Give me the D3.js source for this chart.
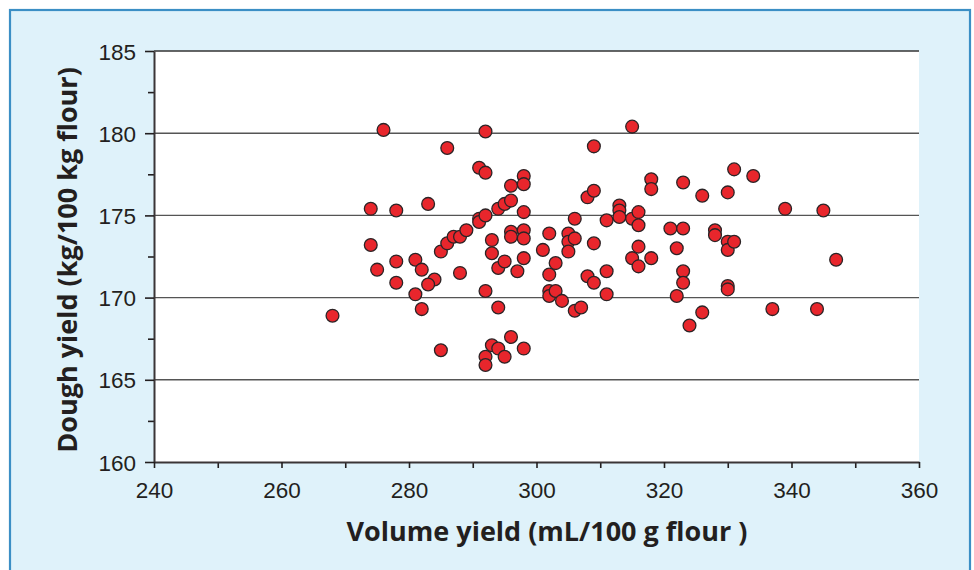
<!DOCTYPE html>
<html>
<head>
<meta charset="utf-8">
<script src="https://cdn.jsdelivr.net/npm/d3@7"></script>
<style>
    html, body { margin: 0; padding: 0; background: #fff; }
    svg { display: block; }
</style>
</head>
<body>
<script>
// volume yield (mL/100 g flour)
var volumeYield = [
    268, 274, 274, 275, 276, 278, 278, 278, 281, 281,
    282, 282, 283, 284, 283, 285, 285, 286, 286, 287,
    288, 288, 289, 291, 291, 291, 292, 292, 292, 292,
    292, 292, 293, 293, 293, 294, 294, 294, 294, 295,
    295, 295, 296, 296, 296, 296, 296, 297, 298, 298,
    298, 298, 298, 298, 298, 301, 302, 302, 302, 302,
    303, 303, 304, 305, 305, 305, 306, 306, 306, 307,
    308, 308, 309, 309, 309, 309, 311, 311, 311, 313,
    313, 313, 315, 315, 315, 316, 316, 316, 316, 318,
    318, 318, 321, 322, 322, 323, 323, 323, 323, 324,
    326, 326, 328, 328, 330, 330, 330, 330, 330, 331,
    331, 334, 337, 339, 344, 345, 347
];

// dough yield (kg/100 kg flour)
var doughYield = [
    168.9, 175.4, 173.2, 171.7, 180.2, 175.3, 172.2, 170.9, 172.3, 170.2,
    171.7, 169.3, 175.7, 171.1, 170.8, 172.8, 166.8, 179.1, 173.3, 173.7,
    173.7, 171.5, 174.1, 177.9, 174.8, 174.6, 180.1, 177.6, 175.0, 170.4,
    166.4, 165.9, 173.5, 172.7, 167.1, 175.4, 171.8, 169.4, 166.9, 175.7,
    172.2, 166.4, 176.8, 175.9, 174.0, 173.7, 167.6, 171.6, 177.4, 176.9,
    175.2, 174.1, 173.6, 172.4, 166.9, 172.9, 173.9, 171.4, 170.4, 170.1,
    172.1, 170.4, 169.8, 173.9, 173.4, 172.8, 174.8, 173.6, 169.2, 169.4,
    176.1, 171.3, 179.2, 176.5, 173.3, 170.9, 174.7, 171.6, 170.2, 175.6,
    175.3, 174.9, 180.4, 174.8, 172.4, 175.2, 174.4, 173.1, 171.9, 177.2,
    176.6, 172.4, 174.2, 173.0, 170.1, 177.0, 174.2, 171.6, 170.9, 168.3,
    176.2, 169.1, 174.1, 173.8, 176.4, 173.4, 172.9, 170.7, 170.5, 177.8,
    173.4, 177.4, 169.3, 175.4, 169.3, 175.3, 172.3
];

var xTicks = [240, 260, 280, 300, 320, 340, 360];
var xMinorTicks = [250, 270, 290, 310, 330, 350];
var yTicks = [160, 165, 170, 175, 180, 185];
var yMinorTicks = [162.5, 167.5, 172.5, 177.5, 182.5];

var xTitle = 'Volume yield (mL/100 g flour )';
var yTitle = 'Dough yield (kg/100 kg flour)';

var width = 974;
var height = 570;
var margin = { left: 154, right: 55, top: 51, bottom: 108 };

var svg = d3.select('body')
    .append('svg')
    .attr('width', width)
    .attr('height', height);

// outer panel
svg.append('rect')
    .attr('x', 10)
    .attr('y', 10)
    .attr('width', width - 14)
    .attr('height', height)
    .attr('fill', '#dff2fa')
    .attr('stroke', '#3b8fc5')
    .attr('stroke-width', 2.2);

var x = d3.scaleLinear()
    .domain([240, 360])
    .range([margin.left, width - margin.right]);

var y = d3.scaleLinear()
    .domain([160, 185])
    .range([height - margin.bottom, margin.top]);

// plot area
svg.append('rect')
    .attr('x', x(240))
    .attr('y', y(185))
    .attr('width', x(360) - x(240))
    .attr('height', y(160) - y(185))
    .attr('fill', '#fff');

// grid lines
svg.append('g')
    .selectAll('line')
    .data(yTicks.filter(function (d) { return d > 160; }))
    .enter()
    .append('line')
    .attr('x1', x(240))
    .attr('x2', x(360))
    .attr('y1', function (d) { return y(d); })
    .attr('y2', function (d) { return y(d); })
    .attr('stroke', function (d) { return d === 185 ? '#333' : '#555'; })
    .attr('stroke-width', 1.4);

// minor ticks
svg.append('g')
    .attr('transform', `translate(${x(240)},0)`)
    .call(d3.axisLeft(y).tickValues(yMinorTicks).tickSize(6).tickFormat(''))
    .call(function (g) { g.select('.domain').remove(); });

svg.append('g')
    .attr('transform', `translate(0,${y(160)})`)
    .call(d3.axisBottom(x).tickValues(xMinorTicks).tickSize(6).tickFormat(''))
    .call(function (g) { g.select('.domain').remove(); });

// y axis
var yAxis = svg.append('g')
    .attr('transform', `translate(${x(240)},0)`)
    .call(d3.axisLeft(y).tickValues(yTicks).tickSize(9).tickSizeOuter(0).tickPadding(9));

// x axis
var xAxis = svg.append('g')
    .attr('transform', `translate(0,${y(160)})`)
    .call(d3.axisBottom(x).tickValues(xTicks).tickSize(6).tickSizeOuter(0).tickPadding(14));

svg.selectAll('.tick line')
    .attr('stroke', '#231f20')
    .attr('stroke-width', 1.6);

svg.selectAll('.domain')
    .attr('stroke', '#3a3536')
    .attr('stroke-width', 2);

[xAxis, yAxis].forEach(function (a) {
    a.selectAll('text')
        .attr('fill', '#231f20')
        .style('font-family', '"Liberation Sans", Arial, sans-serif')
        .style('font-size', '22.5px');
});

yAxis.selectAll('text').attr('dy', '0.36em');

// points
svg.append('g')
    .selectAll('circle')
    .data(volumeYield.map(function (v, i) { return [v, doughYield[i]]; }))
    .enter()
    .append('circle')
    .attr('cx', function (d) { return x(d[0]); })
    .attr('cy', function (d) { return y(d[1]); })
    .attr('r', 6.4)
    .attr('fill', '#e8262c')
    .attr('stroke', '#2b2426')
    .attr('stroke-width', 1.3);

// axis titles
svg.append('text')
    .attr('x', 547)
    .attr('y', 541)
    .attr('text-anchor', 'middle')
    .attr('fill', '#231f20')
    .style('font-family', '"Open Sans", "Noto Sans", sans-serif')
    .style('font-weight', 'bold')
    .style('font-size', '27px')
    .text(xTitle);

svg.append('text')
    .attr('transform', 'translate(77,260) rotate(-90)')
    .attr('text-anchor', 'middle')
    .attr('fill', '#231f20')
    .style('font-family', '"Open Sans", "Noto Sans", sans-serif')
    .style('font-weight', 'bold')
    .style('font-size', '27px')
    .text(yTitle);
</script>
</body>
</html>
